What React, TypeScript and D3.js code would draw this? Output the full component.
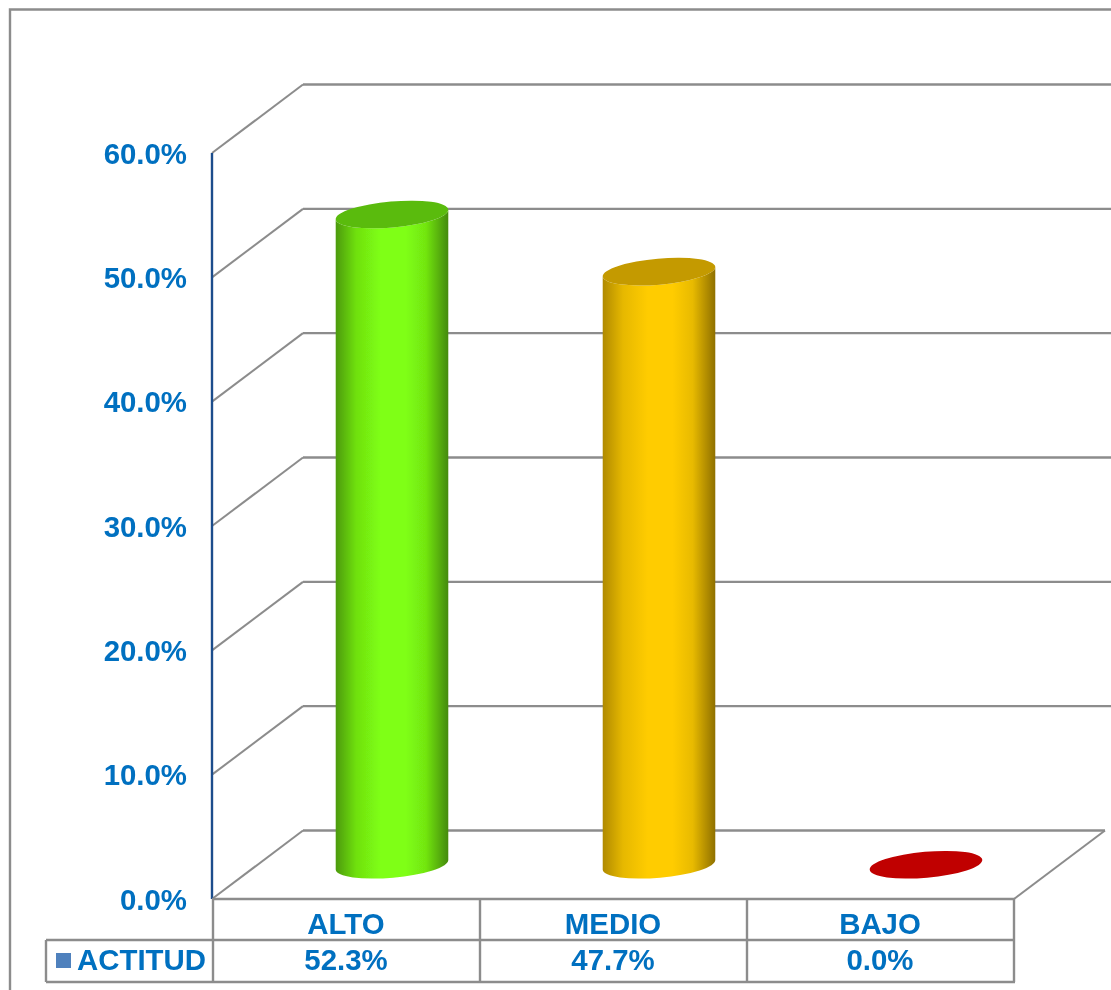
import React from "react";
import * as d3 from "d3";

const categories = ["ALTO", "MEDIO", "BAJO"];
const seriesName = "ACTITUD";
const values = [52.3, 47.7, 0.0];
const yTicks = [0, 10, 20, 30, 40, 50, 60];
const bodyColors = [
  { edgeL: "#4c9a08", soft: "#6fe010", mid: "#7fff13", softR: "#72e611", edgeR: "#458a07", top: "#5abb0c" },
  { edgeL: "#b08a00", soft: "#e6b800", mid: "#ffcc00", softR: "#e8ba00", edgeR: "#8f7000", top: "#c49a00" },
  { edgeL: "#8a0000", soft: "#c00000", mid: "#c00000", softR: "#c00000", edgeR: "#8a0000", top: "#c00000" },
];

const W = 1111;
const H = 990;
const GRID = "#8c8c8c";
const BLUE = "#0070c0";
const FONT = "'Liberation Sans', Arial, sans-serif";
const FS = 29.4;
const DX = 91;
const DY = 68.5;
const RX = 56.5;
const RY = 13;
const ROT = -5;

const y = d3.scaleLinear().domain([0, 60]).range([899, 153]);
const x = d3.scaleBand().domain(categories).range([213, 1014]);
const pct = (v: number) => d3.format(".1f")(v) + "%";

const rad = (ROT * Math.PI) / 180;
const ex = RX * Math.cos(rad);
const ey = RX * Math.sin(rad);

function Cylinder({ cat, value, i }: { cat: string; value: number; i: number }) {
  const cx = x(cat)! + x.bandwidth() / 2 + DX / 2;
  const by = y(0) - DY / 2;
  const ty = y(value) - DY / 2;
  const c = bodyColors[i];
  const body =
    `M${cx - ex},${ty - ey} L${cx - ex},${by - ey} ` +
    `A${RX},${RY} ${ROT} 0 0 ${cx + ex},${by + ey} ` +
    `L${cx + ex},${ty + ey} ` +
    `A${RX},${RY} ${ROT} 0 1 ${cx - ex},${ty - ey} Z`;
  return (
    <g>
      {value > 0 && <path d={body} fill={`url(#cyl${i})`} />}
      <ellipse cx={cx} cy={ty} rx={RX} ry={RY} transform={`rotate(${ROT} ${cx} ${ty})`} fill={c.top} />
    </g>
  );
}

export default function App() {
  const backX0 = 213 + DX - 1;
  const frontRight = x.range()[1];
  const rowTop = 899;
  const rowMid = 940;
  const rowBot = 982;
  const edges = [213, 480, 747, 1014];
  return (
    <svg
      width={W}
      height={H}
      viewBox={`0 0 ${W} ${H}`}
      style={{ position: "absolute", left: 0, top: 0, display: "block", background: "#fff" }}
      fontFamily={FONT}
    >
      <defs>
        {bodyColors.map((c, i) => (
          <linearGradient key={i} id={`cyl${i}`} x1="0" x2="1" y1="0" y2="0">
            <stop offset="0" stopColor={c.edgeL} />
            <stop offset="0.18" stopColor={c.soft} />
            <stop offset="0.4" stopColor={c.mid} />
            <stop offset="0.62" stopColor={c.mid} />
            <stop offset="0.8" stopColor={c.softR} />
            <stop offset="1" stopColor={c.edgeR} />
          </linearGradient>
        ))}
        <filter id="soft" filterUnits="userSpaceOnUse" x={0} y={0} width={W} height={H}>
          <feGaussianBlur stdDeviation="0.45" />
        </filter>
      </defs>

      <g filter="url(#soft)">
        {/* outer frame */}
        <path d={`M10,${H} L10,9.5 L${W},9.5`} fill="none" stroke={GRID} strokeWidth={2.4} />

        {/* wall gridlines */}
        {yTicks.map((t) => (
          <g key={t} stroke={GRID} fill="none">
            <line x1={212} y1={y(t)} x2={backX0} y2={y(t) - DY} strokeWidth={2} />
            <line x1={backX0} y1={y(t) - DY} x2={t === 0 ? frontRight + DX : W} y2={y(t) - DY} strokeWidth={2.4} />
          </g>
        ))}
        <line x1={frontRight} y1={y(0)} x2={frontRight + DX} y2={y(0) - DY} stroke={GRID} strokeWidth={2} />

        {/* value axis */}
        <line x1={212} y1={y(60)} x2={212} y2={y(0)} stroke="#1f4e8c" strokeWidth={2.4} />
        {yTicks.map((t) => (
          <text
            key={t}
            x={187}
            y={y(t) + 10.8}
            textAnchor="end"
            fontSize={FS}
            fontWeight="bold"
            fill={BLUE}
          >
            {pct(t)}
          </text>
        ))}

        {/* cylinders */}
        {categories.map((cat, i) => (
          <Cylinder key={cat} cat={cat} value={values[i]} i={i} />
        ))}

        {/* data table */}
        <g stroke={GRID} strokeWidth={2.4} fill="none">
          <line x1={212} y1={rowTop} x2={1015} y2={rowTop} />
          <line x1={46} y1={rowMid} x2={1015} y2={rowMid} />
          <line x1={46} y1={rowBot} x2={1015} y2={rowBot} />
          <line x1={46} y1={rowMid} x2={46} y2={rowBot} />
          {edges.map((e) => (
            <line key={e} x1={e} y1={rowTop} x2={e} y2={rowBot} />
          ))}
        </g>
        {categories.map((cat, i) => {
          const cx = x(cat)! + x.bandwidth() / 2;
          return (
            <g key={cat} textAnchor="middle" fontSize={FS} fontWeight="bold" fill={BLUE}>
              <text x={cx - 0.5} y={933.5}>{cat}</text>
              <text x={cx - 0.5} y={970}>{pct(values[i])}</text>
            </g>
          );
        })}
        <rect x={56} y={953} width={15} height={15} fill="#4f81bd" />
        <text x={77} y={970} fontSize={FS} fontWeight="bold" fill={BLUE}>{seriesName}</text>
      </g>
    </svg>
  );
}
